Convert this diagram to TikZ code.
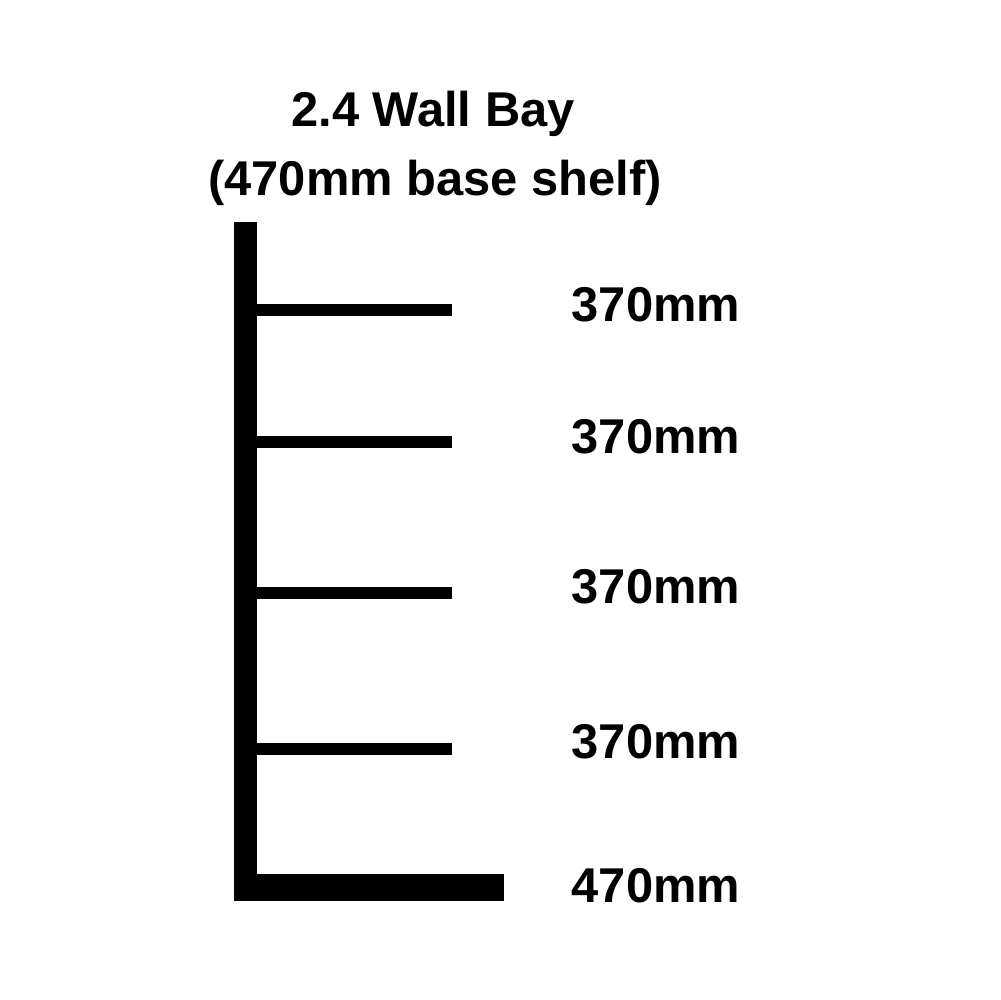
\documentclass[tikz,border=0pt]{standalone}
\usepackage{fontspec}
\setmainfont{Liberation Sans}
\tikzset{
    post/.style={fill=black},
    shelf/.style={black, line width=1.2mm},
    size/.style={anchor=base west, inner sep=0pt, font=\bfseries\fontsize{13.9}{16}\selectfont},
    heading/.style={anchor=base, inner sep=0pt, font=\bfseries\fontsize{13.9}{16}\selectfont},
}

\begin{document}
\begin{tikzpicture}[x=0.1mm, y=-0.1mm]
        \fill[white] (0,0) rectangle (1000,1000);
        % upright and base shelf
        \fill[post] (234,222) rectangle (257,901);
        \fill[post] (234,874) rectangle (504,901);
        \foreach \y/\b [count=\i] in {310/321,442/453,593/603,749/758} {
            \draw[shelf] (250,\y) -- (452,\y);
            \node[size] (len\i) at (571,\b) {370mm};
        }
        \node[size] (len5) at (571,902) {470mm};
        \node[heading] (title) at (433,126) {2.4 Wall Bay};
        \node[heading] (subtitle) at (435,195) {(470mm base shelf)};
        \useasboundingbox (0,0) rectangle (1000,1000);
\end{tikzpicture}
\end{document}
